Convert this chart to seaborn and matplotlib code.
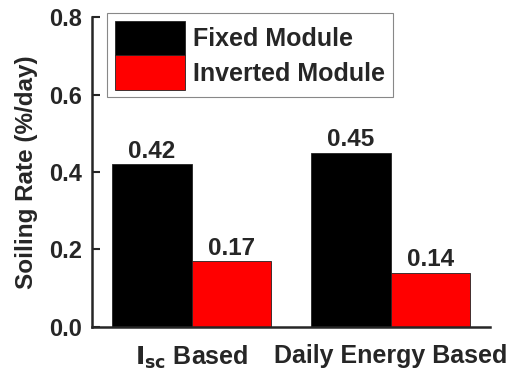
import matplotlib
matplotlib.use("Agg")
import matplotlib.pyplot as plt
import seaborn as sns
import pandas as pd

categories = [r"$\mathbf{I_{sc}}$ Based", "Daily Energy Based"]
series = ["Fixed Module", "Inverted Module"]
fixed_values = [0.42, 0.45]
inverted_values = [0.17, 0.14]
value_labels_fixed = ["0.42", "0.45"]
value_labels_inverted = ["0.17", "0.14"]
y_ticks = [0.0, 0.2, 0.4, 0.6, 0.8]

df = pd.DataFrame({
    "category": categories * 2,
    "series": [series[0]] * 2 + [series[1]] * 2,
    "value": fixed_values + inverted_values,
})

sns.set_style("ticks")
plt.rcParams['font.family'] = ['Liberation Sans', 'DejaVu Sans']
plt.rcParams['font.weight'] = 'bold'
plt.rcParams['mathtext.default'] = 'bf'

fig = plt.figure(figsize=(5.26, 3.81), dpi=100)
ax = fig.add_axes([0.175, 0.142, 0.757, 0.813])

sns.barplot(data=df, x="category", y="value", hue="series",
            palette=["#000000", "#ff0000"], order=categories, hue_order=series,
            width=0.8, edgecolor="#222222", linewidth=0.6, ax=ax, errorbar=None,
            saturation=1)

labels_all = [value_labels_fixed, value_labels_inverted]
for cont, labs in zip(ax.containers, labels_all):
    ax.bar_label(cont, labels=labs, padding=1, fontsize=17.5, fontweight='bold')

ax.set_xlim(-0.5, 1.5)
ax.set_ylim(0, 0.8)
ax.set_yticks(y_ticks)
ax.set_yticklabels([f"{v:.1f}" for v in y_ticks], fontsize=17, fontweight='bold')
ax.set_xlabel("")
ax.set_ylabel("Soiling Rate (%/day)", fontsize=17.5, fontweight='bold', labelpad=8)
ax.tick_params(axis='y', direction='in', length=6, width=1.5, pad=7)
ax.tick_params(axis='x', length=0, pad=12, labelsize=18)
for t in ax.get_xticklabels():
    t.set_fontweight('bold')
sns.despine(ax=ax)
ax.spines['left'].set_linewidth(1.8)
ax.spines['bottom'].set_linewidth(1.8)

leg = ax.legend(loc='upper left', bbox_to_anchor=(0.038, 1.013),
                handlelength=2.8, handleheight=1.75, labelspacing=0.0,
                handletextpad=0.35, borderpad=0.3, borderaxespad=0.0,
                fancybox=False, edgecolor='#888888', framealpha=1,
                prop={'weight': 'bold', 'size': 18})
leg.get_frame().set_linewidth(0.8)
fig.canvas.draw()
bb = leg.get_frame().get_bbox()
leg.get_frame().set_width(bb.width + 8)

fig.savefig("out.png", dpi=100)
